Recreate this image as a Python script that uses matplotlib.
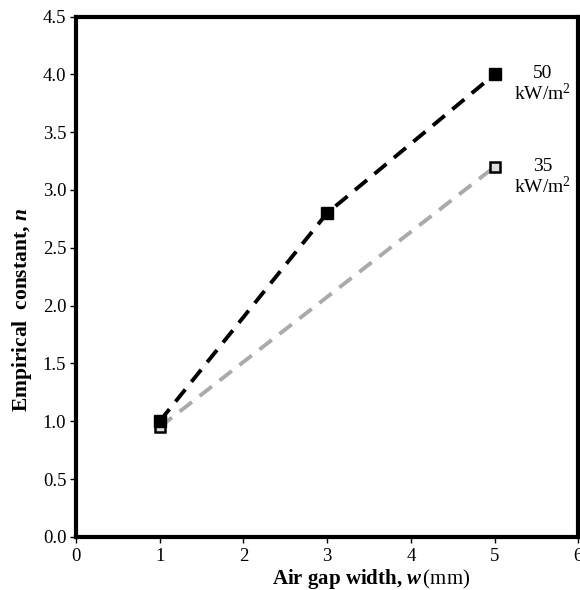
import numpy as np
import matplotlib.pyplot as plt

plt.rcParams['font.family'] = ['Liberation Serif', 'DejaVu Serif']
plt.rcParams['mathtext.fontset'] = 'custom'
plt.rcParams['mathtext.rm'] = 'Liberation Serif'
plt.rcParams['mathtext.it'] = 'Liberation Serif:italic'
plt.rcParams['mathtext.bf'] = 'Liberation Serif:bold:italic'

# data
w50 = [1, 3, 5]
n50 = [1.0, 2.8, 4.0]
w35 = [1, 5]
n35 = [0.95, 3.2]
labels = ['50\nkW/m$^2$', '35\nkW/m$^2$']

fig = plt.figure(figsize=(5.8, 5.9), dpi=100)
ax = fig.add_axes([0.131, 0.09, 0.866, 0.882])

ax.plot(w35, n35, color='#aaaaaa', ls=(0, (4, 2.5)), lw=2.8, zorder=2)
ax.plot(w35, n35, ls='none', marker='s', ms=7, mfc='#dddddd', mec='black', mew=1.8, zorder=3)
ax.plot(w50, n50, color='black', ls=(0, (4, 2.5)), lw=2.8, marker='s', ms=8,
        mfc='black', mec='black', zorder=4)

ax.text(5.57, n50[-1] - 0.09, labels[0], ha='center', va='center', fontsize=14, linespacing=1.05)
ax.text(5.57, n35[-1] - 0.09, labels[1], ha='center', va='center', fontsize=14, linespacing=1.05)

ax.set_xlim(0, 6)
ax.set_ylim(0, 4.5)
ax.set_xticks(range(7))
ax.set_yticks(np.arange(0, 4.6, 0.5))
ax.yaxis.set_major_formatter(plt.FormatStrFormatter('%.1f'))
ax.tick_params(direction='out', length=4, width=1, labelsize=13.5, colors='black')
ax.tick_params(axis='x', pad=4)
ax.tick_params(axis='y', pad=3)
for s in ax.spines.values():
    s.set_linewidth(3)

ax.set_xlabel(r'Air gap width, $\mathbf{w}\,\mathrm{(mm)}$', fontsize=15, fontweight='bold',
              va='center')
ax.set_ylabel(r'Empirical  constant, $\mathbf{n}$', fontsize=15.5, fontweight='bold',
              va='center', ha='center')
ax.xaxis.set_label_coords(0.588, -0.081)
ax.yaxis.set_label_coords(-0.108, 0.436)

fig.savefig('out.png', dpi=100)
